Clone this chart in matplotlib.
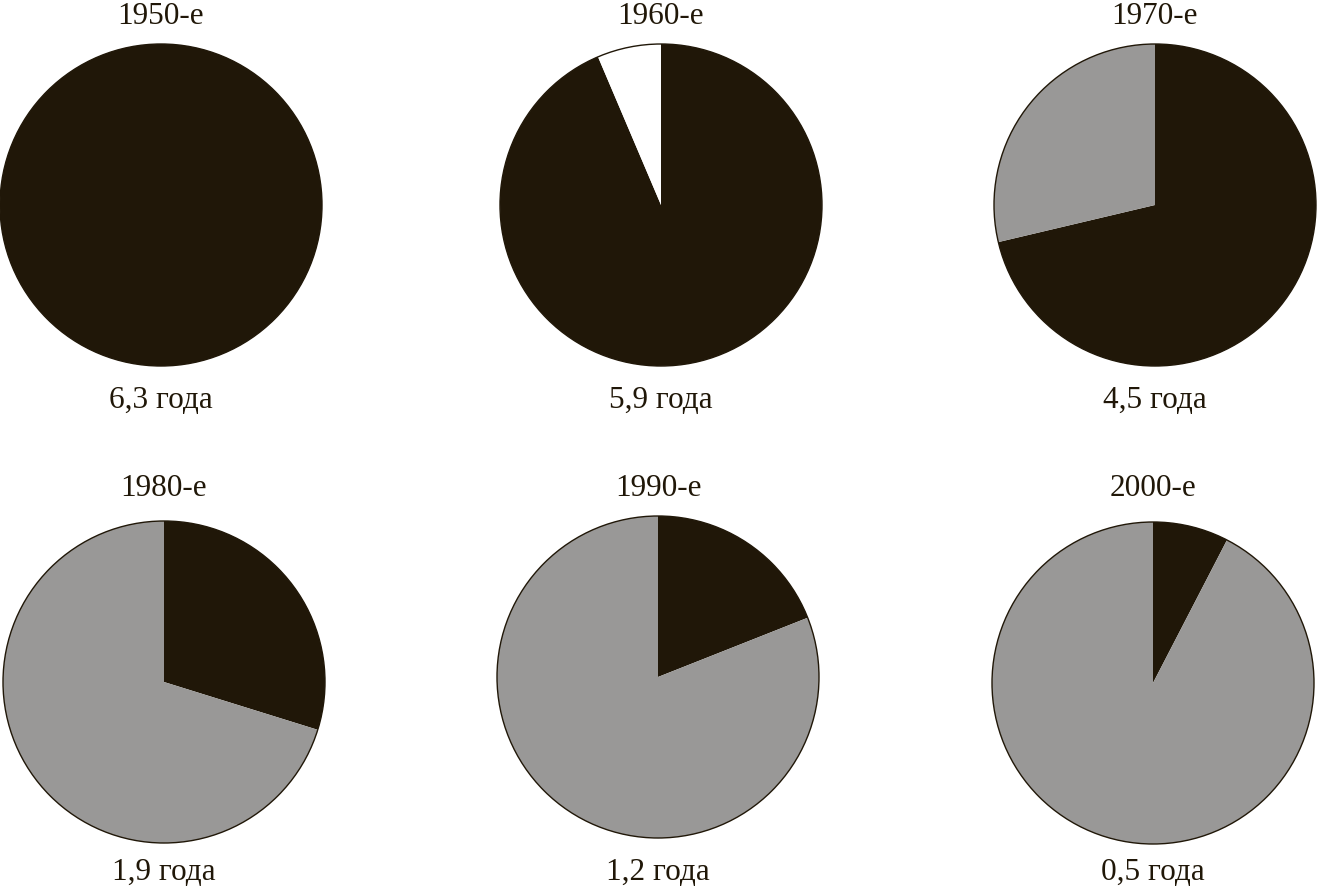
import numpy as np
import matplotlib
matplotlib.use("Agg")
from matplotlib import pyplot as plt
from matplotlib.patches import Circle

# decades, average value labels, shares of each slice (percent)
decades = ["1950-е", "1960-е", "1970-е", "1980-е", "1990-е", "2000-е"]
value_labels = ["6,3 года", "5,9 года", "4,5 года", "1,9 года", "1,2 года", "0,5 года"]
dark_share = [100.0, 93.6, 71.3, 29.8, 19.0, 7.6]
white_share = [0.0, 6.4, 0.0, 0.0, 0.0, 0.0]
gray_share = [0.0, 0.0, 28.7, 70.2, 81.0, 92.4]

colours = ["#201708", "#ffffff", "#999897"]

W, H = 1321, 889
# pie centres / radius in pixels
centres = [(161, 205), (661, 205), (1155, 205),
           (164, 682), (658, 677), (1153, 683)]
radius = 161
title_y = [16, 16, 16, 488, 488, 488]
label_y = [401, 401, 401, 873, 873, 873]

plt.rcParams['font.family'] = ['Liberation Serif', 'DejaVu Serif']

fig = plt.figure(figsize=(W / 100, H / 100), dpi=100)

for i in range(6):
    cx, cy = centres[i]
    r = radius
    ax = fig.add_axes([(cx - r - 2) / W, 1 - (cy + r + 2) / H, (2 * r + 4) / W, (2 * r + 4) / H])
    vals = [dark_share[i], white_share[i], gray_share[i]]
    ax.pie(vals, colors=colours, startangle=90, counterclock=False,
           radius=1.0, wedgeprops=dict(linewidth=0))
    ax.add_patch(Circle((0, 0), 1.0, fill=False, edgecolor=colours[0], linewidth=1.0))
    lim = (r + 2) / r
    ax.set_xlim(-lim, lim)
    ax.set_ylim(-lim, lim)
    ax.set_aspect('equal')
    ax.axis('off')

    fig.text(cx / W, 1 - title_y[i] / H, decades[i], ha='center', va='center',
             fontsize=22.5, color='#201708')
    fig.text(cx / W, 1 - label_y[i] / H, value_labels[i], ha='center', va='center',
             fontsize=22.5, color='#201708')

fig.savefig("out.png", dpi=100)
